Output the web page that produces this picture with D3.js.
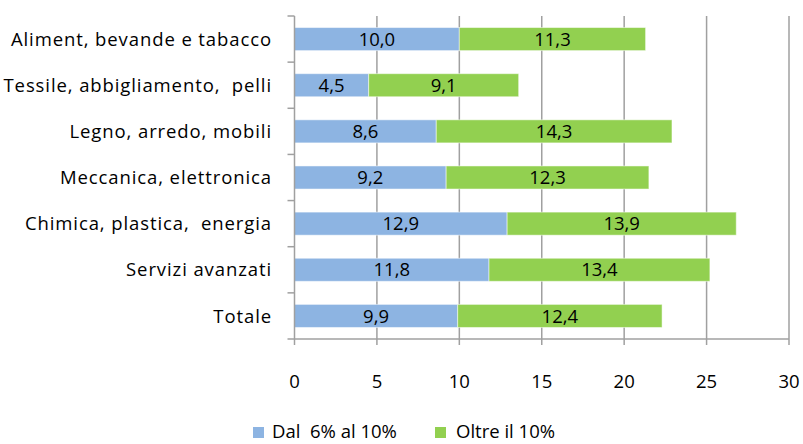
<!DOCTYPE html>
<html><head><meta charset="utf-8">
<script src="https://cdn.jsdelivr.net/npm/d3@7"></script>
<style>body{margin:0;background:#fff}svg{display:block}text{font-family:"Open Sans",Lato,sans-serif;fill:#000}</style>
</head><body><svg id="c" width="803" height="444"></svg>
<script>
const categories = ["Aliment, bevande e tabacco","Tessile, abbigliamento,  pelli","Legno, arredo, mobili","Meccanica, elettronica","Chimica, plastica,  energia","Servizi avanzati","Totale"];
const seriesNames = ["Dal  6% al 10%","Oltre il 10%"];
const dal6al10 = [10.0,4.5,8.6,9.2,12.9,11.8,9.9];
const oltre10 = [11.3,9.1,14.3,12.3,13.9,13.4,12.4];
const xTicks = [0,5,10,15,20,25,30];
const colors = ["#8DB4E2","#92D050"];

const svg = d3.select("#c");
const L=294.5, R=789, T=16, B=339;
const FS=18.5;
const x = d3.scaleLinear().domain([0,30]).range([L,R]);
const y = d3.scaleBand().domain(categories).range([T,B]).paddingInner(0.5).paddingOuter(0.25);
const fmt = v => v.toFixed(1).replace(".",",");

svg.append("g").selectAll("line").data(xTicks.slice(1)).join("line")
  .attr("x1",d=>x(d)).attr("x2",d=>x(d)).attr("y1",T).attr("y2",B)
  .attr("stroke","#a0a0a0").attr("stroke-width",1.5);

const rows = categories.map((c,i)=>({c, a:dal6al10[i], b:oltre10[i]}));
const g = svg.append("g");
rows.forEach(r=>{
  const segs=[{x0:0,x1:r.a,v:r.a,col:colors[0]},{x0:r.a,x1:r.a+r.b,v:r.b,col:colors[1]}];
  segs.forEach(s=>{
    g.append("rect").attr("x",x(s.x0)).attr("y",y(r.c)).attr("width",x(s.x1)-x(s.x0)).attr("height",y.bandwidth())
      .attr("fill",s.col).attr("stroke","#ffffff").attr("stroke-opacity",0.5).attr("stroke-width",1);
    g.append("text").attr("x",(x(s.x0)+x(s.x1))/2).attr("y",y(r.c)+y.bandwidth()/2).attr("dy","0.36em")
      .attr("text-anchor","middle").attr("font-size",FS).text(fmt(s.v));
  });
});

const ax = svg.append("g");
ax.append("line").attr("x1",L).attr("x2",L).attr("y1",T).attr("y2",B).attr("stroke","#a0a0a0").attr("stroke-width",1.5);
ax.append("line").attr("x1",L).attr("x2",R).attr("y1",B).attr("y2",B).attr("stroke","#a0a0a0").attr("stroke-width",1.5);
const bounds = d3.range(categories.length+1).map(i=>T+i*(B-T)/categories.length);
ax.selectAll(".yt").data(bounds).join("line").attr("x1",L-7).attr("x2",L).attr("y1",d=>d).attr("y2",d=>d)
  .attr("stroke","#a0a0a0").attr("stroke-width",1.5);
ax.selectAll(".xt").data(xTicks).join("line").attr("x1",d=>x(d)).attr("x2",d=>x(d)).attr("y1",B).attr("y2",B+6)
  .attr("stroke","#a0a0a0").attr("stroke-width",1.5);
ax.selectAll(".xl").data(xTicks).join("text").attr("x",d=>x(d)).attr("y",381).attr("dy","0.36em")
  .attr("text-anchor","middle").attr("font-size",FS).text(d=>d);
ax.selectAll(".yl").data(categories).join("text").attr("x",272).attr("y",d=>y(d)+y.bandwidth()/2).attr("dy","0.36em")
  .attr("text-anchor","end").attr("font-size",FS).style("letter-spacing","0.9px").style("white-space","pre").text(d=>d);

const lg = svg.append("g");
const lx=[253,435], tx=[272,456];
seriesNames.forEach((n,i)=>{
  lg.append("rect").attr("x",lx[i]).attr("y",427).attr("width",11).attr("height",11).attr("fill",colors[i]);
  lg.append("text").attr("x",tx[i]).attr("y",431).attr("dy","0.36em").attr("font-size",FS)
    .style("white-space","pre").text(n);
});
</script></body></html>
